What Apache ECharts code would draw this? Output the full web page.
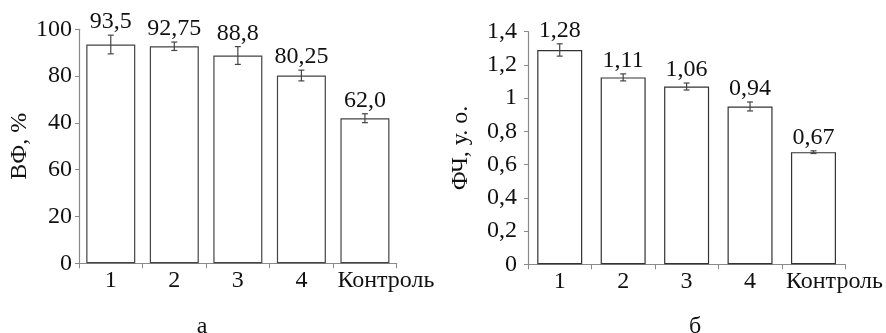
<!DOCTYPE html>
<html><head><meta charset="utf-8">
<script src="https://cdn.jsdelivr.net/npm/echarts@6/dist/echarts.min.js"></script>
<style>html,body{margin:0;padding:0;background:#fff}#c{width:886px;height:333px}</style>
</head><body><div id="c"></div>
<script>
const categories = ['1', '2', '3', '4', 'Контроль'];
// panel а
const vfValues = [93.5, 92.75, 88.8, 80.25, 62.0];
const vfErrors = [4.0, 1.8, 3.8, 2.3, 1.9];
const vfLabels = ['93,5', '92,75', '88,8', '80,25', '62,0'];
const vfTickLabels = ['0', '20', '60', '40', '80', '100'];
// panel б
const fchValues = [1.29, 1.125, 1.07, 0.95, 0.675];
const fchErrors = [0.037, 0.021, 0.021, 0.027, 0.008];
const fchLabels = ['1,28', '1,11', '1,06', '0,94', '0,67'];

const FONT = '"Liberation Serif", "DejaVu Serif", serif';
const TXT = '#111';
const AX = '#8a8a8a';

const chart = echarts.init(document.getElementById('c'));

function errSeries(idx, vals, errs, labels) {
  return {
    type: 'custom', xAxisIndex: idx, yAxisIndex: idx, z: 10,
    data: vals.map((v, i) => [i, v, errs[i]]),
    renderItem: function (params, api) {
      const i = api.value(0), v = api.value(1), e = api.value(2);
      const top = api.coord([i, v + e]);
      const bot = api.coord([i, v - e]);
      const x = top[0], cw = 3;
      const st = { stroke: '#444', lineWidth: 1.2 };
      return {
        type: 'group', children: [
          { type: 'line', shape: { x1: x, y1: top[1], x2: x, y2: bot[1] }, style: st },
          { type: 'line', shape: { x1: x - cw, y1: top[1], x2: x + cw, y2: top[1] }, style: st },
          { type: 'line', shape: { x1: x - cw, y1: bot[1], x2: x + cw, y2: bot[1] }, style: st },
          { type: 'text', x: x, y: top[1] - 13, style: { text: labels[params.dataIndex], font: '24px ' + FONT, fill: TXT, align: 'center', verticalAlign: 'middle' } }
        ]
      };
    }
  };
}

function xAx(idx) {
  return {
    type: 'category', gridIndex: idx, data: categories,
    axisLine: { show: true, lineStyle: { color: AX, width: 1.2 } },
    axisTick: { show: true, length: 5, lineStyle: { color: AX } },
    axisLabel: {
      fontFamily: FONT, fontSize: 24, color: TXT, margin: 5, interval: 0,
      formatter: (v, i) => i === categories.length - 1 ? '{k|' + v + '}' : v,
      rich: { k: { fontFamily: FONT, fontSize: 24, color: TXT, padding: [0, 0, 0, 42] } }
    }
  };
}

chart.setOption({
  animation: false,
  grid: [
    { left: 79, top: 29.3, width: 317.7, bottom: 69.7 },
    { left: 528, top: 31.7, width: 317.3, bottom: 68.7 }
  ],
  xAxis: [xAx(0), xAx(1)],
  yAxis: [
    {
      type: 'value', gridIndex: 0, min: 0, max: 100, interval: 20,
      name: 'ВФ, %', nameLocation: 'middle', nameRotate: 90, nameGap: 45,
      nameTextStyle: { fontFamily: FONT, fontSize: 24, color: TXT },
      axisLine: { show: true, lineStyle: { color: AX, width: 1.2 } },
      axisTick: { show: true, length: 4, lineStyle: { color: AX } },
      splitLine: { show: false },
      axisLabel: { fontFamily: FONT, fontSize: 24, color: TXT, margin: 7,
        formatter: v => vfTickLabels[Math.round(v / 20)] }
    },
    {
      type: 'value', gridIndex: 1, min: 0, max: 1.4, interval: 0.2,
      name: 'ФЧ, у. о.', nameLocation: 'middle', nameRotate: 90, nameGap: 55,
      nameTextStyle: { fontFamily: FONT, fontSize: 24, color: TXT },
      axisLine: { show: true, lineStyle: { color: AX, width: 1.2 } },
      axisTick: { show: true, length: 4, lineStyle: { color: AX } },
      splitLine: { show: false },
      axisLabel: { fontFamily: FONT, fontSize: 24, color: TXT, margin: 11,
        formatter: v => String(Math.round(v * 10) / 10).replace('.', ',') }
    }
  ],
  series: [
    { type: 'bar', xAxisIndex: 0, yAxisIndex: 0, data: vfValues, barWidth: 49,
      itemStyle: { color: '#fff', borderColor: '#444', borderWidth: 1.2 } },
    { type: 'bar', xAxisIndex: 1, yAxisIndex: 1, data: fchValues, barWidth: 45,
      itemStyle: { color: '#fff', borderColor: '#333', borderWidth: 1.2 } },
    errSeries(0, vfValues, vfErrors, vfLabels),
    errSeries(1, fchValues, fchErrors, fchLabels)
  ],
  graphic: [
    { type: 'text', x: 202, y: 327, style: { text: 'а', font: '24px ' + FONT, fill: TXT, align: 'center', verticalAlign: 'middle' } },
    { type: 'text', x: 695, y: 327, style: { text: 'б', font: '24px ' + FONT, fill: TXT, align: 'center', verticalAlign: 'middle' } }
  ]
});
</script></body></html>
